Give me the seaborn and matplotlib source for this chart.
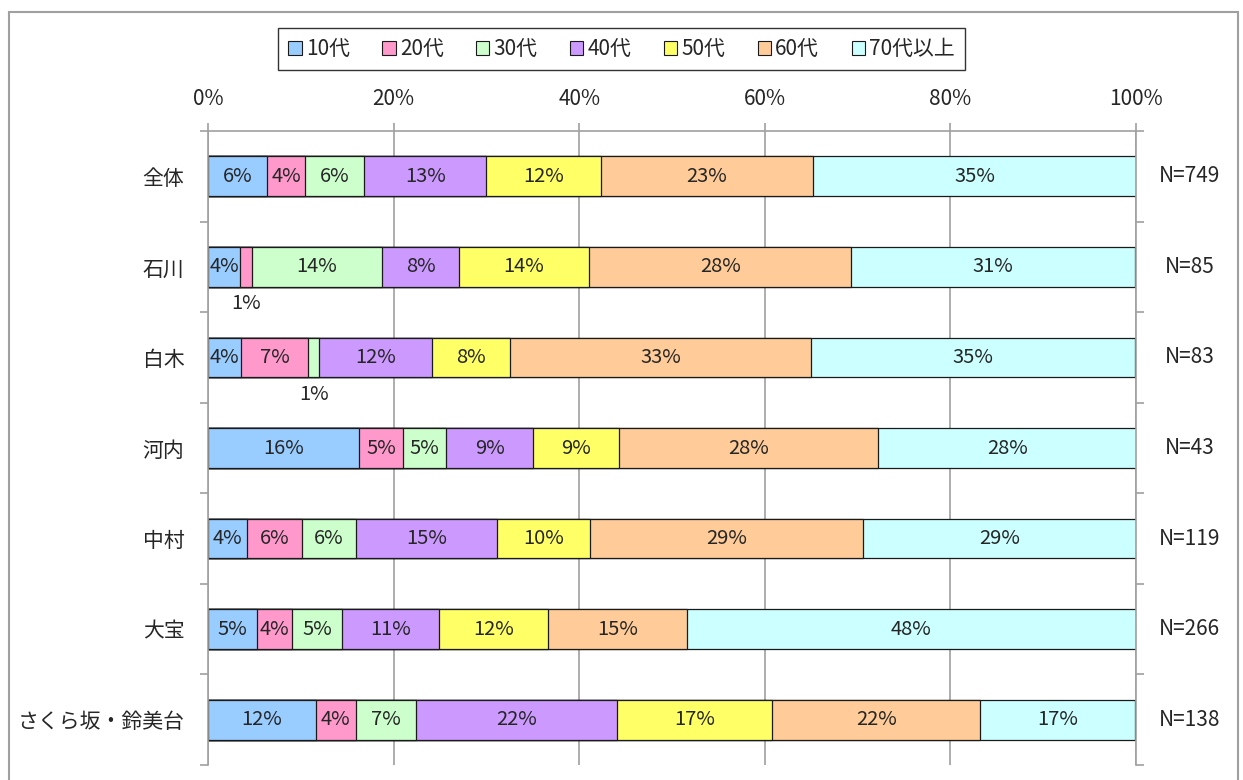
import numpy as np
import pandas as pd
import matplotlib.pyplot as plt
import seaborn as sns
from matplotlib.patches import Patch, Rectangle

# -----------------------------
# DATA (percent of respondents)
# -----------------------------
regions = ["全体", "石川", "白木", "河内", "中村", "大宝", "さくら坂・鈴美台"]
n_labels = ["N=749", "N=85", "N=83", "N=43", "N=119", "N=266", "N=138"]
age_groups = ["10代", "20代", "30代", "40代", "50代", "60代", "70代以上"]

teens      = [6.4, 3.5, 3.6, 16.3, 4.2, 5.3, 11.6]
twenties   = [4.1, 1.2, 7.2, 4.7, 5.9, 3.8, 4.3]
thirties   = [6.3, 14.1, 1.2, 4.7, 5.9, 5.3, 6.5]
forties    = [13.2, 8.2, 12.1, 9.3, 15.1, 10.5, 21.7]
fifties    = [12.3, 14.1, 8.4, 9.3, 10.1, 11.7, 16.7]
sixties    = [22.9, 28.2, 32.5, 27.9, 29.4, 15.0, 22.4]
seventies  = [34.8, 30.6, 34.9, 27.9, 29.4, 48.4, 16.7]

colors = ["#99CCFF", "#FF99CC", "#CCFFCC", "#CC99FF", "#FFFF66", "#FFCC99", "#CCFFFF"]

# -----------------------------
# SETUP
# -----------------------------
sns.set_style("white")
plt.rcParams["font.family"] = ["Noto Sans CJK JP", "DejaVu Sans"]

values = np.array([teens, twenties, thirties, forties, fifties, sixties, seventies]).T
cum = np.cumsum(values, axis=1)
df = pd.DataFrame(cum, columns=age_groups)
df["region"] = regions

fig = plt.figure(figsize=(12.43, 7.80), dpi=100)
ax = fig.add_axes([208 / 1243, 15 / 780, 928 / 1243, 634 / 780])

grey = "#A0A0A0"
ax.set_axisbelow(True)
ax.grid(axis="x", color=grey, linewidth=1.2)

# stacked bars: draw cumulative totals, longest first
for j in range(len(age_groups) - 1, -1, -1):
    sns.barplot(data=df, x=age_groups[j], y="region", color=colors[j],
                saturation=1, orient="h", width=0.44,
                edgecolor="#1a1a1a", linewidth=0.9, ax=ax)

# segment labels
for i in range(len(regions)):
    left = 0
    for j in range(len(age_groups)):
        v = values[i, j]
        txt = f"{int(v + 0.5)}%"
        if v < 2:
            ax.text(left + v / 2, i + 0.41, txt, ha="center", va="center", fontsize=14.5)
        else:
            ax.text(left + v / 2, i, txt, ha="center", va="center", fontsize=14.5)
        left += v
    ax.text(105.8, i, n_labels[i], ha="center", va="center", fontsize=15, clip_on=False)

ax.set_xlim(0, 100)
ax.set_ylim(6.5, -0.5)
ax.set_xlabel("")
ax.set_ylabel("")

ax.xaxis.tick_top()
ax.set_xticks(range(0, 101, 20))
ax.set_xticklabels([f"{t}%" for t in range(0, 101, 20)], fontsize=15)
ax.tick_params(axis="x", which="major", direction="out", length=6, width=1.2,
               color=grey, pad=9, top=True, bottom=False)

ax.set_yticks(range(len(regions)))
ax.set_yticklabels(regions, fontsize=15)
ax.set_yticks(np.arange(-0.5, 7, 1), minor=True)
ax.tick_params(axis="y", which="major", length=0, pad=17)
ax.tick_params(axis="y", which="minor", direction="out", length=6, width=1.2,
               color=grey, left=True, right=True)

for side in ["top", "left", "right"]:
    ax.spines[side].set_color(grey)
    ax.spines[side].set_linewidth(1.2)
ax.spines["bottom"].set_visible(False)

# legend
handles = [Patch(facecolor=c, edgecolor="#1a1a1a", linewidth=0.8) for c in colors]
leg = fig.legend(handles, age_groups, loc="center", bbox_to_anchor=(0.5, 1 - 49 / 780),
                 ncol=7, fontsize=15, frameon=True, fancybox=False,
                 handlelength=0.65, handleheight=0.65, handletextpad=0.2,
                 columnspacing=1.55, borderpad=0.5, borderaxespad=0)
leg.get_frame().set_edgecolor("black")
leg.get_frame().set_linewidth(1.0)

# outer chart border
fig.patches.append(Rectangle((9 / 1243, -0.05), 1229 / 1243, 1.05 - 12 / 780,
                             transform=fig.transFigure, fill=False,
                             edgecolor=grey, linewidth=1.5))

fig.savefig("out.png", dpi=100)
